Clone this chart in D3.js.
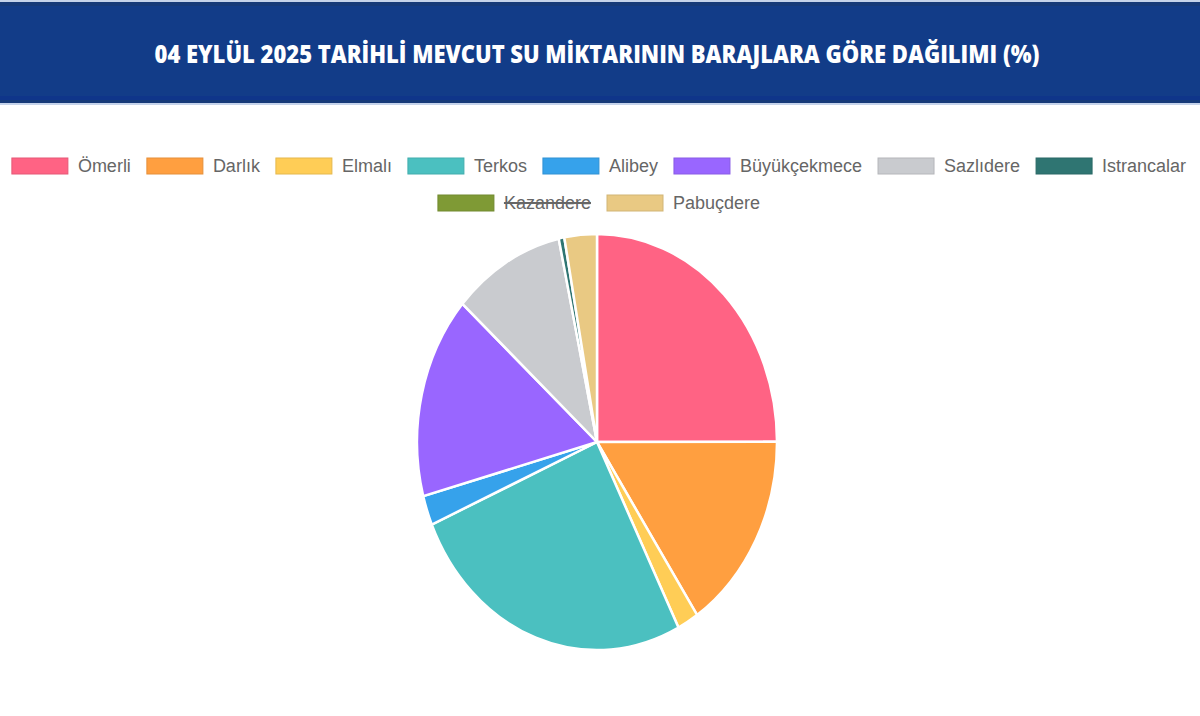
<!DOCTYPE html>
<html>
<head>
<meta charset="utf-8">
<script src="https://cdn.jsdelivr.net/npm/d3@7"></script>
<style>
body { margin: 0; background: #fff; }
</style>
</head>
<body>
<div id="canvas_dam"></div>
<script>
// ----------------------------------------------------------
// DATA -----------------------------------------------------
// ----------------------------------------------------------
var dam_names = ["Ömerli", "Darlık", "Elmalı", "Terkos", "Alibey", "Büyükçekmece", "Sazlıdere", "Istrancalar", "Kazandere", "Pabuçdere"];
var dam_values = [24.9, 15.6, 1.9, 25.9, 2.3, 15.7, 10.0, 0.5, 0.3, 2.9];
var dam_hidden = ["Kazandere"];
var dam_colors = ["#ff6384", "#ff9f40", "#ffcd56", "#4bc0c0", "#36a2eb", "#9966ff", "#c9cbcf", "#2f7572", "#7f9a35", "#e9c983"];
var text_headline = "04 EYLÜL 2025 TARİHLİ MEVCUT SU MİKTARININ BARAJLARA GÖRE DAĞILIMI (%)";

// ----------------------------------------------------------
// STRUCTURE ------------------------------------------------
// ----------------------------------------------------------
var width = 1200, height = 716;
var svg = d3.select("#canvas_dam").append("svg")
.attr("width", width)
.attr("height", height)
.style("display", "block")
.style("background-color", "#fff");

// header band
var header = svg.append("g").attr("class", "header");
header.append("rect").attr("x", 0).attr("y", 0).attr("width", width).attr("height", 105).style("fill", "#c5d3ea");
header.append("rect").attr("x", 0).attr("y", 2).attr("width", width).attr("height", 101).style("fill", "#163a78");
header.append("rect").attr("x", 0).attr("y", 6).attr("width", width).attr("height", 90).style("fill", "#123c88");
header.append("rect").attr("x", 0).attr("y", 96).attr("width", width).attr("height", 4).style("fill", "#0f358a");
header.append("text")
.attr("x", 597)
.attr("y", 63)
.attr("text-anchor", "middle")
.attr("textLength", 885)
.attr("lengthAdjust", "spacingAndGlyphs")
.style("font-family", "'Open Sans', sans-serif")
.style("font-weight", 800)
.style("font-size", "24px")
.style("fill", "#fff")
.text(text_headline);

// ----------------------------------------------------------
// LEGEND ---------------------------------------------------
// ----------------------------------------------------------
var legend_group = svg.append("g").attr("class", "legend");
var box_w = 56, box_h = 16, box_gap = 10, item_gap = 16, max_row = 1190;
var row_y = [166, 203];

// measure label widths first
var items = dam_names.map(function(name, i) {
var t = legend_group.append("text")
.style("font-family", "'Liberation Sans', Arial, sans-serif")
.style("font-size", "18px")
.text(name);
var w = t.node().getComputedTextLength();
t.remove();
return { name: name, color: dam_colors[i], w: box_w + box_gap + w };
});

// wrap into rows
var rows = [[]], row_width = [0];
items.forEach(function(it) {
var r = rows.length - 1;
var add = (rows[r].length ? item_gap : 0) + it.w;
if (row_width[r] + add > max_row) {
rows.push([it]); row_width.push(it.w);
} else {
rows[r].push(it); row_width[r] += add;
}
});

rows.forEach(function(row, r) {
var x = 599 - row_width[r] / 2;
var cy = row_y[r];
row.forEach(function(it) {
var hidden = dam_hidden.indexOf(it.name) >= 0;
var g = legend_group.append("g");
g.append("rect")
.attr("x", x).attr("y", cy - box_h / 2)
.attr("width", box_w).attr("height", box_h)
.style("fill", it.color)
.style("stroke", d3.color(it.color).darker(0.3))
.style("stroke-width", 1);
var t = g.append("text")
.attr("x", x + box_w + box_gap)
.attr("y", cy + 6)
.style("font-family", "'Liberation Sans', Arial, sans-serif")
.style("font-size", "18px")
.style("fill", "#666")
.text(it.name);
if (hidden) {
var tw = t.node().getComputedTextLength();
g.append("line")
.attr("x1", x + box_w + box_gap).attr("x2", x + box_w + box_gap + tw)
.attr("y1", cy).attr("y2", cy)
.style("stroke", "#666").style("stroke-width", 2);
}
x += it.w + item_gap;
});
});

// ----------------------------------------------------------
// PIE ------------------------------------------------------
// ----------------------------------------------------------
var pie_data = dam_names.map(function(name, i) {
return { name: name, value: dam_hidden.indexOf(name) >= 0 ? 0 : dam_values[i], color: dam_colors[i] };
});
var pie = d3.pie().sort(null).value(function(d) { return d.value; });
var arc = d3.arc().innerRadius(0).outerRadius(180);

// the source picture is stretched vertically
var pie_group = svg.append("g")
.attr("transform", "translate(597,442) scale(1,1.156)");
pie_group.selectAll("path")
.data(pie(pie_data).filter(function(d) { return d.data.value > 0; }))
.enter()
.append("path")
.attr("d", arc)
.style("fill", function(d) { return d.data.color; })
.style("stroke", "#fff")
.style("stroke-width", 2.5)
.attr("vector-effect", "non-scaling-stroke");
</script>
</body>
</html>
